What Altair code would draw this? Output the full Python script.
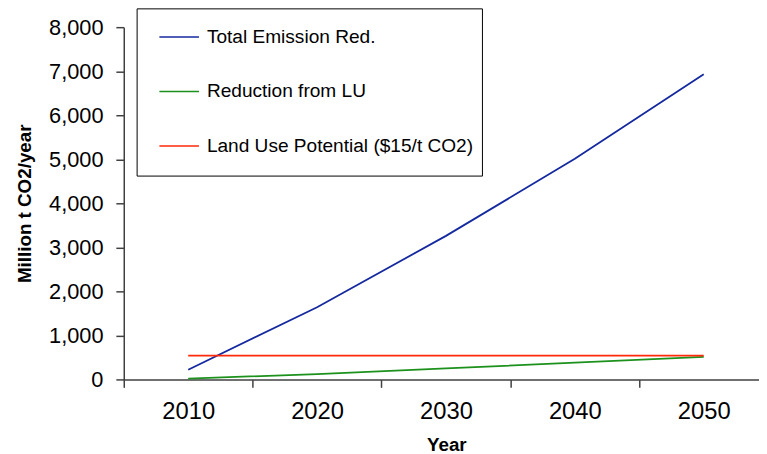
import altair as alt
import pandas as pd

# ---- data ----
years = [2010, 2020, 2030, 2040, 2050]
total_emission_red = [220, 1640, 3260, 5010, 6930]
reduction_from_lu = [20, 120, 250, 380, 510]
land_use_potential = [540, 540, 540, 540, 540]

series_names = ["Total Emission Red.", "Reduction from LU", "Land Use Potential ($15/t CO2)"]
series_colors = ["#15299e", "#1c911c", "#ff2a0a"]

x_tick_values = [2005, 2010, 2015, 2020, 2025, 2030, 2035, 2040, 2045, 2050]
y_tick_values = [0, 1000, 2000, 3000, 4000, 5000, 6000, 7000, 8000]

rows = []
for name, vals in zip(series_names, [total_emission_red, reduction_from_lu, land_use_potential]):
    for yr, v in zip(years, vals):
        rows.append({"Year": yr, "Value": v, "Series": name})
df = pd.DataFrame(rows)

FONT = "Liberation Sans"
AXIS_COLOR = "#404040"

x_axis = alt.Axis(
    values=x_tick_values,
    labelExpr="datum.value % 10 == 0 ? '' + datum.value : ''",
    tickOpacity={"condition": {"test": "datum.value % 10 == 5", "value": 1}, "value": 0},
    tickSize=8,
    tickWidth=1.5,
    tickColor=AXIS_COLOR,
    domainColor=AXIS_COLOR,
    domainWidth=1.5,
    labelFont=FONT,
    labelFontSize=24,
    labelColor="black",
    labelPadding=13,
    labelOverlap=False,
    labelFlush=False,
    grid=False,
    title="Year",
    titleFont=FONT,
    titleFontSize=19,
    titleFontWeight="bold",
    titleColor="black",
    titleX=326,
    titleY=66,
    titleBaseline="middle",
)

y_axis = alt.Axis(
    values=y_tick_values,
    format=",d",
    tickSize=8,
    tickWidth=1.5,
    tickColor=AXIS_COLOR,
    domainColor=AXIS_COLOR,
    domainWidth=1.5,
    labelFont=FONT,
    labelFontSize=22,
    labelColor="black",
    labelPadding=13,
    grid=False,
    title="Million t CO2/year",
    titleFont=FONT,
    titleFontSize=19,
    titleFontWeight="bold",
    titleColor="black",
    titleX=-100,
    titleY=178,
    titleBaseline="middle",
)

legend = alt.Legend(
    title=" ",
    titleOrient="bottom",
    titleFontSize=8,
    titlePadding=4,
    orient="none",
    legendX=13,
    legendY=-19,
    direction="vertical",
    strokeColor="black",
    fillColor="white",
    padding=8,
    symbolType="stroke",
    symbolSize=1600,
    symbolStrokeWidth=1.5,
    symbolOffset=14,
    labelOffset=7,
    labelFont=FONT,
    labelFontSize=19.3,
    labelColor="black",
    labelLimit=500,
    rowPadding=23,
)

chart = (
    alt.Chart(df)
    .mark_line(strokeWidth=1.8)
    .encode(
        x=alt.X("Year:Q", scale=alt.Scale(domain=[2005, 2054.29], nice=False, zero=False), axis=x_axis),
        y=alt.Y("Value:Q", scale=alt.Scale(domain=[0, 8000], nice=False), axis=y_axis),
        color=alt.Color(
            "Series:N",
            scale=alt.Scale(domain=series_names, range=series_colors),
            sort=series_names,
            legend=legend,
        ),
    )
    .properties(
        width=642,
        height=356,
        autosize=alt.AutoSizeParams(type="none"),
        padding={"left": 117, "top": 17, "right": 0, "bottom": 73},
        background="white",
    )
    .configure_view(stroke=None)
)

chart.save("out.html", embed_options={"renderer": "svg", "actions": False})
